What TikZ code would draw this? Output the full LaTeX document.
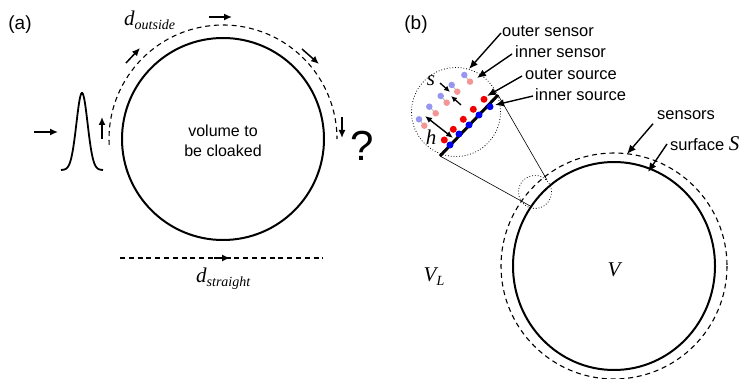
\documentclass[tikz,border=0pt]{standalone}
\usepackage{fontspec}
\setmainfont{Liberation Sans}
\newfontfamily\tms{Liberation Serif}
\usetikzlibrary{arrows.meta}
\definecolor{sensblue}{RGB}{150,150,240}
\definecolor{senspink}{RGB}{245,150,150}
\definecolor{srcred}{RGB}{240,0,0}
\definecolor{srcblue}{RGB}{0,0,235}
\tikzset{
  thickline/.style={line width=2pt},
  dashline/.style={line width=1.1pt, dash pattern=on 5pt off 3.8pt},
  arr/.style={line width=1.5pt, -{Latex[length=8pt,width=7pt]}},
  bigarr/.style={line width=1.4pt, -{Latex[length=9pt,width=7.5pt]}},
  smallarr/.style={line width=1.3pt, -{Latex[length=6pt,width=5.5pt]}},
  lbl/.style={font=\fontsize{16.5}{19}\selectfont, inner sep=0pt, anchor=west},
  panel/.style={font=\fontsize{19}{22}\selectfont, inner sep=0pt},
  mathlbl/.style={font=\tms\itshape\fontsize{21}{22}\selectfont, inner sep=0pt},
  thinline/.style={line width=0.6pt},
  dotcirc/.style={line width=0.8pt, dotted},
  sensdot/.style={circle, inner sep=0pt, minimum size=6.5pt},
  srcdot/.style={circle, inner sep=0pt, minimum size=7pt},
}
\begin{document}
\begin{tikzpicture}[x=1pt,y=1pt,yscale=-1]
\useasboundingbox (0,0) rectangle (743,379);
% ---------- panel (a) ----------
\node[panel] (pa) at (20,25) {(a)};
\node[circle, draw, thickline, minimum size=202pt, inner sep=0pt] (vol) at (223,139) {};
\node[align=center, font=\fontsize{16}{20}\selectfont, inner sep=0pt] (voltext) at (223,141) {volume to\\be cloaked};
\coordinate (ca) at (223,139);
\draw[dashline] ([shift={(177:114)}]ca) arc[start angle=177, end angle=360, radius=114];
% tangent arrows
\coordinate (t1a) at (102,139); \coordinate (t1b) at (102,117);
\coordinate (t2a) at (126,63);  \coordinate (t2b) at (140,48);
\coordinate (t3a) at (209,17);  \coordinate (t3b) at (232,17);
\coordinate (t4a) at (302,49);  \coordinate (t4b) at (319,64);
\coordinate (t5a) at (342,117); \coordinate (t5b) at (342,138);
\foreach \i in {1,...,5} \draw[arr] (t\i a) -- (t\i b);
% pulse
\draw[line width=1.8pt] plot[domain=-21:21, samples=80, smooth] ({82+\x},{170-77*exp(-(\x*\x)/62)});
\coordinate (inA) at (34,132); \coordinate (inB) at (58,132);
\draw[arr] (inA) -- (inB);
\node[font=\fontsize{42}{42}\selectfont, inner sep=0pt] (q) at (362,146) {?};
% straight path
\coordinate (sA) at (120,258); \coordinate (sB) at (323,258);
\draw[dashline] (sA) -- (sB);
\coordinate (sm1) at (214,258); \coordinate (sm2) at (230,258);
\draw[arr] (sm1) -- (sm2);
\node[mathlbl, anchor=west] (dout) at (124,20) {d\raisebox{-4pt}{\fontsize{14}{14}\selectfont outside}};
\node[mathlbl, anchor=west] (dstr) at (196,279) {d\raisebox{-4pt}{\fontsize{14}{14}\selectfont straight}};
% ---------- panel (b) ----------
\node[panel] (pb) at (416,25) {(b)};
\coordinate (cb) at (614,266);
\draw[thickline] (cb) ellipse[x radius=101, y radius=104];
\draw[dashline] (cb) circle[radius=113];
\node[mathlbl] (V) at (614,270) {V};
\node[mathlbl] (VL) at (434,277) {V\raisebox{-4pt}{\fontsize{14}{14}\selectfont L}};
% magnified region
\node[circle, draw, dotcirc, minimum size=89pt, inner sep=0pt] (mag) at (456,112) {};
\node[circle, draw, dotcirc, minimum size=33pt, inner sep=0pt] (small) at (535,192) {};
\coordinate (m1) at (440,156); \coordinate (m2) at (498,95);
\coordinate (s1) at (532,207); \coordinate (s2) at (547,180);
\draw[thinline] (m1) -- (s1);
\draw[thinline] (m2) -- (s2);
\draw[line width=3pt] (m1) -- (m2);
% sources
\foreach \n/\rx/\ry/\bx/\by in {1/484/99.3/490/106.7, 2/473.3/109.3/479/115, 3/463.3/119.3/469/125, 4/453.3/129.3/459/134, 5/444.3/140/450/145}{
  \node[srcdot, fill=srcred] (r\n) at (\rx,\ry) {};
  \node[srcdot, fill=srcblue] (b\n) at (\bx,\by) {};
}
% sensors
\foreach \n/\ax/\ay/\px/\py in {1/464.3/75/470/81.7, 2/451.7/85/457.3/91.7, 3/440.7/96/446.7/102.7, 4/429.3/106.7/435.7/113.3, 5/419/119.3/424.3/125.7}{
  \draw[line width=1pt, gray!50] (\ax,\ay) -- (\px,\py);
  \node[sensdot, fill=sensblue] (sa\n) at (\ax,\ay) {};
  \node[sensdot, fill=senspink] (sp\n) at (\px,\py) {};
}
% labels
\node[lbl] (lOS) at (502,31) {outer sensor};
\node[lbl] (lIS) at (515,52) {inner sensor};
\node[lbl] (lOSo) at (525,74) {outer source};
\node[lbl] (lISo) at (535,95) {inner source};
\node[lbl] (lSen) at (657,115) {sensors};
\node[lbl] (lSur) at (670,144) {surface {\tms\itshape\fontsize{21}{22}\selectfont S}};
\coordinate (aOS) at (469,69);
\coordinate (aIS) at (477,78);
\coordinate (aOSo) at (487,96);
\coordinate (aISo) at (495,105);
\coordinate (aSen) at (627,154);
\coordinate (aSur) at (648,172);
\draw[bigarr] (lOS.west) ++(-1,2) -- (aOS);
\draw[bigarr] (lIS.west) ++(-3,2) -- (aIS);
\draw[bigarr] (lOSo.west) ++(-3,2) -- (aOSo);
\draw[bigarr] (lISo.west) ++(-2,1) -- (aISo);
\draw[bigarr] (lSen.south west) ++(-4,4) -- (aSen);
\draw[bigarr] (lSur.west) ++(-3,0) -- (aSur);
% s and h
\node[mathlbl] (s) at (431,81) {s};
\coordinate (sa1) at (440,83); \coordinate (sa2) at (450,92);
\coordinate (sb1) at (461,105); \coordinate (sb2) at (451,96);
\draw[smallarr] (sa1) -- (sa2);
\draw[smallarr] (sb1) -- (sb2);
\node[mathlbl] (h) at (431,137) {h};
\coordinate (h1) at (425,116); \coordinate (h2) at (453,138);
\draw[line width=1.4pt, {Latex[length=7pt,width=6pt]}-{Latex[length=7pt,width=6pt]}] (h1) -- (h2);
\end{tikzpicture}
\end{document}
